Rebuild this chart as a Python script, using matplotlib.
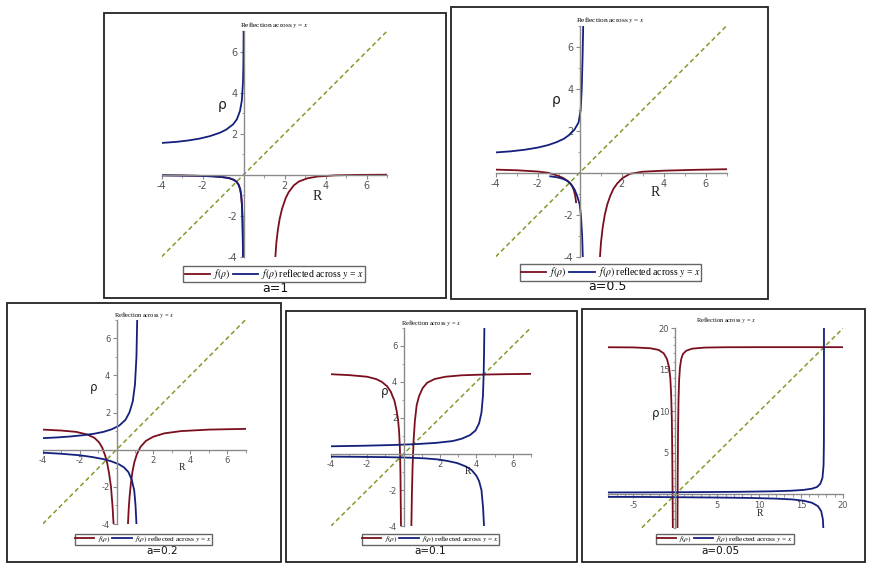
"""
Five Maple-style panels: f(rho) and its reflection across y = x
for a = 1, 0.5, 0.2, 0.1, 0.05.
"""

import matplotlib.pyplot as plt
from matplotlib.patches import Rectangle
from matplotlib.lines import Line2D
from matplotlib.ticker import MultipleLocator, FixedLocator

plt.rcParams['mathtext.fontset'] = 'stix'
plt.rcParams['axes.unicode_minus'] = False

# ----------------------------
# Data: red curve f(rho), two branches per panel
# ----------------------------
a_values = ["1", "0.5", "0.2", "0.1", "0.05"]

# a = 1
a1_left_R = [-4, -3, -2, -1.5, -1, -0.7, -0.5, -0.35, -0.25, -0.17, -0.12, -0.08, -0.05, -0.03]
a1_left_f = [-0.03, -0.04, -0.06, -0.08, -0.12, -0.17, -0.24, -0.34, -0.48, -0.7, -1.0, -1.5, -2.4, -4.0]
a1_right_R = [1.55, 1.6, 1.67, 1.76, 1.88, 2.05, 2.2, 2.45, 2.7, 3.1, 3.6, 4.5, 5.5, 7.0]
a1_right_f = [-4.0, -3.3, -2.7, -2.15, -1.65, -1.15, -0.85, -0.52, -0.33, -0.18, -0.09, -0.03, -0.01, 0.0]

# a = 0.5
a05_left_R = [-4, -3, -2, -1.5, -1.1, -0.8, -0.6, -0.45, -0.35, -0.27, -0.21, -0.17]
a05_left_f = [0.15, 0.12, 0.06, 0.0, -0.12, -0.24, -0.37, -0.5, -0.65, -0.85, -1.1, -1.4]
a05_right_R = [0.97, 1.02, 1.1, 1.2, 1.32, 1.46, 1.62, 1.8, 2.05, 2.4, 3.0, 4.0, 5.5, 7.0]
a05_right_f = [-4.0, -3.3, -2.6, -2.0, -1.5, -1.1, -0.75, -0.5, -0.25, -0.05, 0.05, 0.1, 0.14, 0.17]

# a = 0.2
a02_left_R = [-4, -3, -2.2, -1.6, -1.2, -0.95, -0.78, -0.62, -0.5, -0.4, -0.3, -0.22, -0.16]
a02_left_f = [1.08, 1.03, 0.96, 0.82, 0.64, 0.4, 0.12, -0.3, -0.75, -1.3, -2.0, -3.0, -4.0]
a02_right_R = [0.62, 0.66, 0.71, 0.78, 0.86, 0.96, 1.1, 1.3, 1.6, 2.0, 2.6, 3.5, 5.0, 7.0]
a02_right_f = [-4.0, -3.2, -2.5, -1.8, -1.2, -0.7, -0.25, 0.15, 0.48, 0.7, 0.88, 1.0, 1.08, 1.12]

# a = 0.1
a01_left_R = [-4, -3, -2, -1.5, -1.2, -0.9, -0.7, -0.5, -0.38, -0.3, -0.24, -0.2, -0.17, -0.14]
a01_left_f = [4.42, 4.37, 4.28, 4.15, 4.0, 3.75, 3.45, 2.95, 2.4, 1.9, 1.2, 0.3, -1.0, -4.0]
a01_right_R = [0.43, 0.46, 0.5, 0.55, 0.62, 0.72, 0.85, 1.05, 1.3, 1.7, 2.3, 3.2, 4.4, 5.5, 7.0]
a01_right_f = [-4.0, -2.2, -0.6, 0.7, 1.8, 2.7, 3.2, 3.65, 3.95, 4.15, 4.28, 4.36, 4.4, 4.42, 4.44]

# a = 0.05
a005_left_R = [-8, -5, -3, -2, -1.4, -1.0, -0.75, -0.6, -0.5, -0.42, -0.37, -0.33, -0.3, -0.29]
a005_left_f = [17.72, 17.7, 17.6, 17.4, 17.0, 16.3, 15.3, 14.0, 12.0, 9.0, 5.0, 0.0, -4.0, -8.0]
a005_right_R = [0.24, 0.25, 0.28, 0.32, 0.38, 0.45, 0.55, 0.7, 0.9, 1.3, 2.0, 3.5, 6.0, 10, 15, 20]
a005_right_f = [-8.0, -4.0, 2.0, 7.5, 11.5, 13.8, 15.3, 16.3, 16.9, 17.3, 17.55, 17.68, 17.72, 17.73, 17.73, 17.73]

branches = [
    (a1_left_R, a1_left_f, a1_right_R, a1_right_f),
    (a05_left_R, a05_left_f, a05_right_R, a05_right_f),
    (a02_left_R, a02_left_f, a02_right_R, a02_right_f),
    (a01_left_R, a01_left_f, a01_right_R, a01_right_f),
    (a005_left_R, a005_left_f, a005_right_R, a005_right_f),
]

# ----------------------------
# Layout (pixels in the 875x569 picture)
# ----------------------------
W, H = 875, 569
RED = "#7a0f1e"
BLUE = "#13207c"
GREEN = "#7f9d2c"
GRAY = "#8a8a8a"

layout = [
    dict(box=(104, 13, 446, 298), ax=(161.7, 387, 31.2, 256.7), xl=(-4, 7), yl=(-4, 7), step=2,
         ty=25.5, rho=(221.7, 105), R=(317, 196), leg=(274, 274), cap=(275, 288), big=True),
    dict(box=(451, 7, 768, 299), ax=(495.7, 726.5, 25.9, 256.7), xl=(-4, 7), yl=(-4, 7), step=2,
         ty=20, rho=(556, 100), R=(655, 193), leg=(610.5, 272.5), cap=(607, 287), big=True),
    dict(box=(7, 303, 281, 562), ax=(42.7, 245.7, 319.6, 524), xl=(-4, 7), yl=(-4, 7), step=2,
         ty=315, rho=(94, 387), R=(182, 467), leg=(143.5, 539.5), cap=(161.7, 550.5), big=False),
    dict(box=(286, 311, 577, 562), ax=(330.7, 531, 327.6, 526.3), xl=(-4, 7), yl=(-4, 7), step=2,
         ty=323, rho=(385, 392), R=(468, 471), leg=(430.5, 539.5), cap=(430, 551), big=False),
    dict(box=(582, 309, 865, 562), ax=(608.3, 843, 328.3, 527.7), xl=(-8, 20), yl=(-4, 20), step=5,
         ty=320, rho=(656, 413), R=(760, 514), leg=(725, 539), cap=(720, 551), big=False),
]


def fx(px):
    return px / W


def fy(py):
    return 1 - py / H


fig = plt.figure(figsize=(W / 100, H / 100), dpi=100)

for (lR, lf, rR, rf), a, L in zip(branches, a_values, layout):
    # frame around each panel
    x0, y0, x1, y1 = L["box"]
    fig.add_artist(Rectangle((fx(x0), fy(y1)), fx(x1 - x0), (y1 - y0) / H,
                             transform=fig.transFigure, fill=False,
                             edgecolor="#222222", linewidth=1.3))

    al, ar, at, ab = L["ax"]
    ax = fig.add_axes([fx(al), fy(ab), fx(ar - al), (ab - at) / H])
    ax.patch.set_alpha(0)

    # y = x guide
    lo = max(L["xl"][0], L["yl"][0])
    hi = min(L["xl"][1], L["yl"][1])
    ax.plot([lo, hi], [lo, hi], color=GREEN, lw=1.1, ls=(0, (3, 2)))

    # f(rho)
    ax.plot(lR, lf, color=RED, lw=1.3)
    ax.plot(rR, rf, color=RED, lw=1.3)
    # reflection across y = x
    ax.plot(lf, lR, color=BLUE, lw=1.3)
    ax.plot(rf, rR, color=BLUE, lw=1.3)

    ax.set_xlim(*L["xl"])
    ax.set_ylim(*L["yl"])

    for s in ["top", "right"]:
        ax.spines[s].set_visible(False)
    for s in ["left", "bottom"]:
        ax.spines[s].set_position("zero")
        ax.spines[s].set_color(GRAY)
        ax.spines[s].set_linewidth(1.0)

    st = L["step"]
    xt = [v for v in range(L["xl"][0], L["xl"][1] + 1) if v % st == 0 and v != 0]
    yt = [v for v in range(L["yl"][0], L["yl"][1] + 1) if v % st == 0 and v != 0]
    ax.xaxis.set_major_locator(FixedLocator(xt))
    ax.yaxis.set_major_locator(FixedLocator(yt))
    ax.xaxis.set_minor_locator(MultipleLocator(1))
    ax.yaxis.set_minor_locator(MultipleLocator(1))
    big = L["big"]
    ax.tick_params(which="major", length=3, width=0.8, color=GRAY,
                   labelsize=7 if big else 6, labelcolor="#555555", pad=1.5)
    ax.tick_params(which="minor", length=1.8, width=0.6, color=GRAY)

    cx = (al + ar) / 2
    fig.text(fx(cx), fy(L["ty"]), r"Reflection across $y$ = $x$",
             ha="center", va="center", fontsize=5.3 if big else 4.6,
             family="Liberation Serif")
    fig.text(fx(L["rho"][0]), fy(L["rho"][1]), "ρ", ha="center", va="center",
             fontsize=10 if big else 8.5, family="DejaVu Sans", color="#222222")
    fig.text(fx(L["R"][0]), fy(L["R"][1]), "R", ha="center", va="center",
             fontsize=10 if big else 7, family="Liberation Serif", color="#222222")

    handles = [Line2D([], [], color=RED, lw=1.3), Line2D([], [], color=BLUE, lw=1.3)]
    labels = [r"$f(\rho)$", r"$f(\rho)$ reflected across $y$ = $x$"]
    fsz = 7 if big else 5.3
    fig.legend(handles, labels, loc="center",
               bbox_to_anchor=(fx(L["leg"][0]), fy(L["leg"][1])),
               ncol=2, frameon=True, fancybox=False,
               edgecolor="#666666", framealpha=1, handlelength=2.6,
               handletextpad=0.3, columnspacing=0.3, borderpad=0.1 if not big else 0.15,
               borderaxespad=0, prop={"family": "Liberation Serif", "size": fsz})
    fig.text(fx(L["cap"][0]), fy(L["cap"][1]), "a=" + a, ha="center", va="center",
             fontsize=9 if big else 7.5, family="DejaVu Sans", color="#111111")

plt.savefig("out.png", dpi=100)
